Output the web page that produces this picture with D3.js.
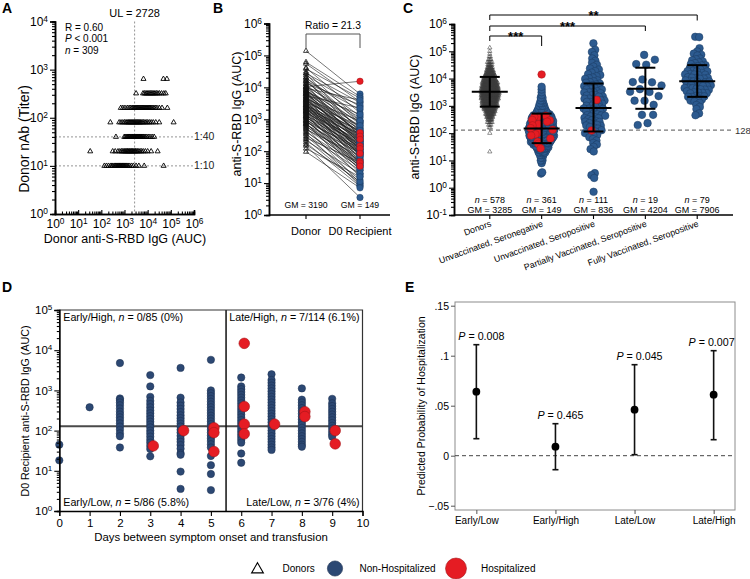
<!DOCTYPE html>
<html><head><meta charset="utf-8">
<script src="https://cdn.jsdelivr.net/npm/d3@7"></script>
<style>body{margin:0;background:#fff} text{white-space:pre}</style>
</head><body>
<svg id="c" width="750" height="579"></svg>
<script>
// ===================== DATA =====================
// Panel A: donor anti-S-RBD IgG (log10 AUC) for each nAb titer row
const titerRows = [10, 20, 40, 80, 160, 320, 640];
const aRow10  = [2.13, 2.22, 2.31, 2.4, 2.45, 2.5, 2.56, 2.6, 2.63, 2.67, 2.71, 2.74, 2.77, 2.8, 2.83, 2.86, 2.9, 2.93, 2.96, 2.99, 3.03, 3.07, 3.11, 3.16, 3.22, 3.3, 3.38, 3.5, 3.62, 3.85, 4.69];
const aRow20  = [1.52, 2.49, 2.6, 2.72, 2.8, 2.87, 2.92, 2.97, 3.01, 3.05, 3.09, 3.13, 3.16, 3.2, 3.23, 3.27, 3.3, 3.34, 3.37, 3.41, 3.45, 3.48, 3.53, 3.57, 3.62, 3.68, 3.74, 3.81, 3.9, 4.0, 4.15, 4.43];
const aRow40  = [2.63, 2.99, 3.04, 3.09, 3.13, 3.16, 3.2, 3.23, 3.27, 3.3, 3.33, 3.36, 3.39, 3.42, 3.45, 3.48, 3.51, 3.54, 3.57, 3.6, 3.63, 3.66, 3.69, 3.72, 3.76, 3.8, 3.84, 3.89, 3.95, 4.02, 4.1, 4.19, 4.28];
const aRow80  = [2.39, 2.77, 2.85, 2.93, 3.0, 3.06, 3.11, 3.16, 3.2, 3.24, 3.28, 3.32, 3.36, 3.4, 3.44, 3.48, 3.52, 3.56, 3.6, 3.64, 3.68, 3.72, 3.77, 3.82, 3.88, 3.94, 4.0, 4.07, 4.15, 4.24, 4.35, 4.5, 5.12];
const aRow160 = [2.84, 2.93, 3.02, 3.12, 3.2, 3.27, 3.33, 3.38, 3.43, 3.47, 3.51, 3.55, 3.59, 3.63, 3.67, 3.71, 3.75, 3.79, 3.83, 3.87, 3.91, 3.95, 3.99, 4.03, 4.07, 4.11, 4.16, 4.21, 4.27, 4.33, 4.4, 4.5, 4.62, 4.85];
const aRow320 = [3.5, 3.8, 3.86, 3.92, 3.97, 4.02, 4.07, 4.12, 4.17, 4.22, 4.27, 4.32, 4.38, 4.44, 4.51, 4.6, 4.7, 4.78];
const aRow640 = [3.82, 4.68, 4.83];
const ulA = 2728;

// Panel B: paired donor / D0 recipient log10 AUC
const bCats = ["Donor", "D0 Recipient"];
const donorB = [5.14, 4.79, 4.74, 4.61, 4.58, 4.49, 4.44, 4.43, 4.37, 4.31, 4.30, 4.26, 4.21, 4.20, 4.17, 4.12, 4.10, 4.08, 4.03, 4.01,
  3.99, 3.97, 3.95, 3.93, 3.90, 3.88, 3.86, 3.85, 3.82, 3.80, 3.79, 3.77, 3.74, 3.72, 3.71, 3.69, 3.67, 3.66, 3.63, 3.61,
  3.60, 3.58, 3.57, 3.55, 3.53, 3.52, 3.50, 3.49, 3.47, 3.45, 3.44, 3.42, 3.41, 3.39, 3.37, 3.36, 3.34, 3.33, 3.31, 3.29,
  3.28, 3.26, 3.24, 3.23, 3.21, 3.19, 3.17, 3.16, 3.13, 3.11, 3.09, 3.07, 3.05, 3.03, 3.01, 2.98, 2.96, 2.93, 2.91, 2.88,
  2.86, 2.83, 2.80, 2.77, 2.74, 2.71, 2.68, 2.64, 2.60, 2.56, 2.52, 2.47, 2.42, 2.38, 2.33, 2.27, 2.21, 2.17, 2.08, 1.98];
const recipB = [3.79, 3.71, 3.55, 3.20, 3.66, 2.95, 3.52, 2.60, 3.40, 2.88, 3.10, 2.45, 3.30, 2.70, 2.95, 3.45, 2.20, 2.85, 3.05, 2.50,
  2.75, 3.60, 2.30, 2.65, 2.90, 1.95, 2.55, 3.15, 2.40, 2.80, 2.05, 2.60, 3.35, 2.25, 2.50, 1.85, 2.70, 2.35, 2.95, 2.15,
  2.45, 1.75, 2.60, 2.30, 2.05, 2.80, 2.20, 1.60, 2.50, 2.35, 1.95, 2.65, 2.10, 2.40, 1.70, 2.25, 2.55, 1.90, 2.15, 2.45,
  1.50, 2.30, 2.00, 2.20, 1.80, 2.35, 1.40, 2.05, 1.95, 2.25, 1.65, 1.90, 2.15, 1.30, 1.85, 2.00, 1.55, 1.75, 2.10, 1.20,
  1.60, 1.95, 1.45, 1.70, 1.00, 1.55, 1.85, 1.25, 1.50, 0.93, 1.40, 1.10, 1.65, 0.98, 1.30, 0.90, 1.05, 0.55, 1.20, 0.85];
const donorBHosp = [4.02, 3.90, 3.62, 3.80, 3.45, 3.35, 3.25, 3.10, 2.95, 2.85];
const recipBHosp = [4.19, 2.58, 2.47, 2.37, 2.16, 2.08, 1.93, 1.68, 1.63, 1.53];
const bGM = [3190, 149];
const bRatio = 21.3;

// Panel C: log10 AUC by group
const cCats = ["Donors", "Unvaccinated, Seronegative", "Unvaccinated, Seropositive", "Partially Vaccinated, Seropositive", "Fully Vaccinated, Seropositive"];
const cN  = [578, 361, 111, 19, 79];
const cGM = [3285, 149, 836, 4204, 7906];
const cLo = [940, 43, 115, 780, 2140];
const cHi = [11500, 520, 6600, 25000, 31000];
// frequency tables [log10 AUC, count]
const cDonorBins = [[1.32,1],[2.0,1],[2.2,2],[2.3,3],[2.4,5],[2.5,8],[2.6,12],[2.7,16],[2.8,20],[2.9,25],[3.0,30],[3.1,34],[3.2,37],[3.3,41],[3.4,44],[3.5,45],[3.6,43],[3.7,39],[3.8,35],[3.9,31],[4.0,26],[4.1,21],[4.2,17],[4.3,13],[4.4,9],[4.5,7],[4.6,5],[4.7,3],[4.8,2],[4.9,1],[5.0,1],[5.13,1]];
const cSeronegBins = [[0.52,1],[0.56,1],[0.9,1],[1.0,2],[1.1,2],[1.2,3],[1.3,5],[1.4,8],[1.5,12],[1.6,16],[1.7,20],[1.8,24],[1.9,27],[2.0,29],[2.1,30],[2.2,29],[2.3,27],[2.4,24],[2.5,21],[2.6,17],[2.7,13],[2.8,9],[2.9,6],[3.0,4],[3.1,3],[3.2,2],[3.3,2],[3.4,1],[3.5,1],[3.6,1],[3.7,1]];
const cSeronegHosp = [4.15, 2.6, 2.57, 2.52, 2.47, 2.42, 2.36, 2.3, 2.24, 2.18, 2.12, 2.05, 1.98, 1.9, 1.82, 1.72, 1.62, 1.5];
const cSeropos = [5.29, 5.05, 4.98, 4.85, 4.74, 4.65, 4.58, 4.5, 4.44, 4.38, 4.32, 4.27, 4.22, 4.17, 4.12, 4.08, 4.04, 4.0, 3.96, 3.93,
  3.9, 3.87, 3.83, 3.81, 3.78, 3.74, 3.72, 3.7, 3.66, 3.64, 3.62, 3.58, 3.56, 3.54, 3.5, 3.49, 3.46, 3.43, 3.41, 3.39,
  3.35, 3.34, 3.31, 3.28, 3.26, 3.24, 3.2, 3.19, 3.16, 3.13, 3.11, 3.09, 3.05, 3.04, 3.01, 2.98, 2.96, 2.94, 2.9, 2.89,
  2.86, 2.83, 2.81, 2.79, 2.75, 2.74, 2.71, 2.68, 2.66, 2.64, 2.6, 2.59, 2.56, 2.53, 2.51, 2.49, 2.45, 2.44, 2.41, 2.37,
  2.35, 2.32, 2.28, 2.26, 2.23, 2.2, 2.16, 2.12, 2.08, 2.04, 2.0, 1.95, 1.9, 1.85, 1.79, 1.73, 1.66, 1.58, 1.5, 1.42,
  1.33, 0.53, 0.46, 0.36, -0.15];
const cSeroposHosp = [3.25, 2.11];
const cPartial = [4.86, 4.68, 4.53, 4.53, 3.95, 3.76, 3.76, 3.76, 3.64, 3.58, 3.58, 3.37, 3.21, 3.21, 3.03, 2.66, 2.66, 2.40, 2.30];
const cFully = [5.53, 5.52, 5.1, 5.0, 4.92, 4.85, 4.8, 4.74, 4.7, 4.66, 4.62, 4.58, 4.55, 4.51, 4.48, 4.45, 4.42, 4.39, 4.36, 4.35,
  4.33, 4.3, 4.27, 4.24, 4.21, 4.2, 4.18, 4.15, 4.12, 4.1, 4.09, 4.06, 4.05, 4.03, 4.0, 4.0, 3.97, 3.95, 3.94, 3.91,
  3.9, 3.88, 3.85, 3.85, 3.82, 3.8, 3.79, 3.76, 3.75, 3.73, 3.7, 3.7, 3.67, 3.65, 3.64, 3.61, 3.6, 3.58, 3.55, 3.52,
  3.5, 3.49, 3.46, 3.45, 3.43, 3.4, 3.36, 3.35, 3.32, 3.28, 3.24, 3.2, 3.15, 3.1, 3.05, 3.0, 2.9, 2.72, 2.66];
const cThreshold = 128;
const cBrackets = [[0, 1, "***"], [0, 3, "***"], [0, 4, "**"]];

// Panel D: [day, log10 AUC list] for non-hospitalized; [day, log10 AUC] for hospitalized
const nonHospD = [
  [0, [1.65, 1.26]],
  [1, [2.58]],
  [2, [3.68, 2.8, 2.76, 2.7, 2.63, 2.55, 2.47, 2.4, 2.33, 2.26, 2.18, 2.1, 2.02, 1.93, 1.86, 1.58]],
  [3, [3.38, 3.1, 2.84, 2.74, 2.66, 2.58, 2.5, 2.43, 2.36, 2.29, 2.22, 2.15, 2.08, 2.0, 1.93, 1.85, 1.77, 1.7, 1.62, 1.54, 1.36]],
  [4, [3.56, 2.82, 2.7, 2.62, 2.54, 2.46, 2.38, 2.31, 2.24, 2.17, 2.1, 2.02, 1.95, 1.87, 1.79, 1.72, 1.64, 1.55, 1.44, 1.4, 0.98, 0.55]],
  [5, [3.76, 3.0, 2.93, 2.86, 2.79, 2.72, 2.65, 2.58, 2.51, 2.44, 2.37, 2.3, 2.23, 2.16, 2.09, 2.02, 1.95, 1.88, 1.81, 1.74, 1.66, 1.58, 1.37, 1.14, 0.92, 0.52]],
  [6, [3.32, 3.1, 3.03, 2.96, 2.89, 2.82, 2.75, 2.68, 2.61, 2.54, 2.47, 2.4, 2.33, 2.26, 2.19, 2.12, 2.05, 1.98, 1.91, 1.84, 1.77, 1.7, 1.43, 1.2]],
  [7, [3.4, 3.26, 3.19, 3.12, 3.05, 2.98, 2.91, 2.84, 2.77, 2.7, 2.63, 2.56, 2.49, 2.42, 2.35, 2.28, 2.21, 2.14, 2.07, 2.0, 1.93, 1.86, 1.79, 1.72, 1.65, 1.58, 1.52]],
  [8, [3.05, 2.77, 2.7, 2.63, 2.56, 2.49, 2.42, 2.35, 2.28, 2.21, 2.14, 2.07, 2.0, 1.93, 1.86, 1.79, 1.72, 1.65, 1.6]],
  [9, [2.79, 2.68, 2.61, 2.54, 2.47, 2.4, 2.33, 2.26, 2.19, 2.12, 2.05, 1.98, 1.91, 1.85]]
];
const hospD = [[3,1.62],[4,2.0],[5,2.07],[5,1.95],[5,1.48],[6,4.17],[6,2.6],[6,2.16],[6,1.92],[7,2.16],[8,2.47],[8,2.35],[9,2.0],[9,1.67]];
const dQuadLabels = [
  ["Early/High, ", "0/85 (0%)"], ["Early/Low, ", "5/86 (5.8%)"],
  ["Late/High, ", "7/114 (6.1%)"], ["Late/Low, ", "3/76 (4%)"]
];

// Panel E
const eCats = ["Early/Low", "Early/High", "Late/Low", "Late/High"];
const eProb = [0.064, 0.009, 0.046, 0.061];
const eLo   = [0.017, -0.014, 0.001, 0.016];
const eHi   = [0.111, 0.032, 0.091, 0.105];
const eP    = ["0.008", "0.465", "0.045", "0.007"];
const eTicks = [-0.05, 0, 0.05, 0.1, 0.15];

// ===================== DRAWING =====================
const F = '"Liberation Sans", Arial, Helvetica, sans-serif';
const svg = d3.select("#c").attr("font-family", F);
const BLUE = "#2c5a8f", BLUE_S = "#1b3a61", DBLUE = "#2c4873", DBLUE_S = "#1b2f4f";
const RED = "#e51c23", RED_S = "#a5161a";
const p10 = v => Math.pow(10, v);

function decades(a, b) { return d3.range(a, b + 1).map(p10); }
function minors(a, b) { const o = []; d3.range(a, b).forEach(e => d3.range(2, 10).forEach(m => o.push(m * p10(e)))); return o; }
function styleAxis(g, sw = 1.5) {
  g.select(".domain").attr("stroke", "#000").attr("stroke-width", sw);
  g.selectAll(".tick line").attr("stroke", "#000").attr("stroke-width", 1.1);
  g.selectAll(".tick text").attr("fill", "#000").attr("font-family", F);
}
function supTicks(g, fs) {
  g.selectAll(".tick text").attr("font-size", fs + "px").each(function (d) {
    const e = Math.round(Math.log10(d));
    const t = d3.select(this).text(null);
    t.append("tspan").text("10");
    t.append("tspan").attr("dy", "-0.5em").attr("font-size", (fs * 0.7) + "px").text(e);
  });
}
function logAxis(g, scale, orient, lo, hi, fs, major = 5, minor = 3, pad = 2) {
  const mk = orient === "left" ? d3.axisLeft : d3.axisBottom;
  g.append("g").call(mk(scale).tickValues(minors(lo, hi)).tickSize(minor).tickFormat("")).call(styleAxis);
  g.append("g").call(mk(scale).tickValues(decades(lo, hi)).tickSize(major).tickPadding(pad)).call(styleAxis).call(s => supTicks(s, fs));
}
function rich(parent, x, y, parts, fs, anchor = "start") {
  const t = parent.append("text").attr("x", x).attr("y", y).attr("font-size", fs + "px")
    .attr("text-anchor", anchor).attr("fill", "#000");
  parts.forEach(p => { const s = t.append("tspan").text(p[0]); if (p[1]) s.attr("font-style", "italic"); });
  return t;
}
function panelLabel(x, y, s) {
  svg.append("text").attr("x", x).attr("y", y).attr("font-size", "14px").attr("font-weight", "bold").text(s);
}
const tri = d3.symbol(d3.symbolTriangle);

// ---------- Panel A ----------
{
  const xA = d3.scaleLog().domain([1, 1e6]).range([55, 194]);
  const yA = d3.scaleLog().domain([1, 1e4]).range([214, 21.5]);
  const g = svg.append("g");
  panelLabel(2, 13, "A");
  g.append("line").attr("x1", xA(ulA)).attr("x2", xA(ulA)).attr("y1", yA(1e4)).attr("y2", yA(1))
    .attr("stroke", "#888").attr("stroke-width", 0.9).attr("stroke-dasharray", "2,2");
  [[40, "1:40"], [10, "1:10"]].forEach(([v, l]) => {
    g.append("line").attr("x1", xA(1)).attr("x2", xA(1e6)).attr("y1", yA(v)).attr("y2", yA(v))
      .attr("stroke", "#888").attr("stroke-width", 0.9).attr("stroke-dasharray", "2,2");
    g.append("text").attr("x", 194).attr("y", yA(v) + 3.5).attr("font-size", "10.5px").attr("fill", "#222").text(l);
  });
  const rows = [aRow10, aRow20, aRow40, aRow80, aRow160, aRow320, aRow640];
  const pts = [];
  rows.forEach((r, i) => r.forEach(v => pts.push([p10(v), titerRows[i]])));
  g.selectAll("path.ta").data(pts).join("path").attr("class", "ta")
    .attr("d", tri.size(11)).attr("transform", d => `translate(${xA(d[0])},${yA(d[1])})`)
    .attr("fill", "none").attr("stroke", "#000").attr("stroke-width", 0.9);
  const ax = g.append("g").attr("transform", "translate(0,214)");
  logAxis(ax, xA, "bottom", 0, 6, 12, -4, -2.5, 5.5);
  const ay = g.append("g").attr("transform", "translate(55,0)");
  logAxis(ay, yA, "left", 0, 4, 12);
  g.append("text").attr("x", xA(ulA)).attr("y", 16.5).attr("text-anchor", "middle").attr("font-size", "11px").text("UL = 2728");
  rich(g, 65, 30.5, [["R = 0.60"]], 10);
  rich(g, 65, 42, [["P", 1], [" < 0.001"]], 10);
  rich(g, 65, 53.5, [["n", 1], [" = 309"]], 10);
  g.append("text").attr("x", 125).attr("y", 243).attr("text-anchor", "middle").attr("font-size", "12.5px").text("Donor anti-S-RBD IgG (AUC)");
  g.append("text").attr("transform", "translate(29,139) rotate(-90)").attr("text-anchor", "middle").attr("font-size", "14px").text("Donor nAb (Titer)");
}

// ---------- Panel B ----------
{
  const yB = d3.scaleLog().domain([1, 1e6]).range([215, 23.5]);
  const xB = d3.scalePoint().domain(bCats).range([306, 360]);
  const g = svg.append("g");
  panelLabel(213, 13, "B");
  const x0 = xB(bCats[0]), x1 = xB(bCats[1]);
  const pairs = donorB.map((d, i) => [d, recipB[i], 0]).concat(donorBHosp.map((d, i) => [d, recipBHosp[i], 1]));
  g.selectAll("line.pl").data(pairs).join("line").attr("class", "pl")
    .attr("x1", x0).attr("x2", x1).attr("y1", d => yB(p10(d[0]))).attr("y2", d => yB(p10(d[1])))
    .attr("stroke", "#1a1a1a").attr("stroke-width", 0.7).attr("stroke-opacity", 0.85);
  g.selectAll("path.tb").data(pairs).join("path").attr("class", "tb")
    .attr("d", tri.size(11)).attr("transform", d => `translate(${x0},${yB(p10(d[0]))})`)
    .attr("fill", "none").attr("stroke", "#111").attr("stroke-width", 0.8);
  g.selectAll("circle.rb").data(pairs.filter(d => !d[2])).join("circle").attr("class", "rb")
    .attr("cx", x1).attr("cy", d => yB(p10(d[1]))).attr("r", 3.2).attr("fill", BLUE).attr("stroke", BLUE_S).attr("stroke-width", 0.5);
  g.selectAll("circle.rh").data(pairs.filter(d => d[2])).join("circle").attr("class", "rh")
    .attr("cx", x1).attr("cy", d => yB(p10(d[1]))).attr("r", 3.2).attr("fill", RED).attr("stroke", RED_S).attr("stroke-width", 0.5);
  const ay = g.append("g").attr("transform", "translate(269,0)");
  logAxis(ay, yB, "left", 0, 6, 12);
  g.append("line").attr("x1", 269).attr("x2", 390).attr("y1", 215).attr("y2", 215).attr("stroke", "#000").attr("stroke-width", 1.5);
  bCats.forEach(c => {
    g.append("line").attr("x1", xB(c)).attr("x2", xB(c)).attr("y1", 215).attr("y2", 219).attr("stroke", "#000").attr("stroke-width", 1.1);
    g.append("text").attr("x", xB(c)).attr("y", 235).attr("text-anchor", "middle").attr("font-size", "11px").text(c);
  });
  bGM.forEach((v, i) => g.append("text").attr("x", xB(bCats[i])).attr("y", 208).attr("text-anchor", "middle").attr("font-size", "8.7px").text("GM = " + v));
  g.append("path").attr("d", `M${x0},48V34H${x1}V48`).attr("fill", "none").attr("stroke", "#555").attr("stroke-width", 1);
  g.append("text").attr("x", (x0 + x1) / 2).attr("y", 29).attr("text-anchor", "middle").attr("font-size", "10.3px").text("Ratio = " + bRatio);
  g.append("text").attr("transform", "translate(241,114) rotate(-90)").attr("text-anchor", "middle").attr("font-size", "12.5px").text("anti-S-RBD IgG (AUC)");
}

// ---------- Panel C ----------
{
  const yC = d3.scaleLog().domain([0.1, 1e6]).range([215, 24]);
  const xC = d3.scalePoint().domain(cCats).range([454, 733]).padding(0.69);
  const g = svg.append("g");
  panelLabel(403, 13, "C");
  function swarm(vals, cx, rc, sx, sy) {
    const nodes = vals.map((v, i) => ({ v: v[0], h: v[1], ty: yC(p10(v[0])), x: cx + ((i * 7) % 9 - 4) * 0.6, y: yC(p10(v[0])) }));
    const sim = d3.forceSimulation(nodes)
      .force("x", d3.forceX(cx).strength(sx))
      .force("y", d3.forceY(d => d.ty).strength(sy))
      .force("c", d3.forceCollide(rc).iterations(2)).stop();
    for (let k = 0; k < 250; k++) sim.tick();
    return nodes;
  }
  const expand = bins => bins.flatMap(([v, c]) => d3.range(c).map(() => v));
  g.append("line").attr("x1", 454).attr("x2", 733).attr("y1", yC(cThreshold)).attr("y2", yC(cThreshold))
    .attr("stroke", "#777").attr("stroke-width", 1.2).attr("stroke-dasharray", "4,3");
  g.append("text").attr("x", 735).attr("y", yC(cThreshold) + 3.5).attr("font-size", "9.5px").attr("fill", "#333").text(cThreshold);
  const dn = swarm(expand(cDonorBins).map(v => [v, 0]), xC(cCats[0]), 0.58, 0.07, 0.5);
  g.selectAll("path.tc").data(dn).join("path").attr("class", "tc")
    .attr("d", tri.size(8)).attr("transform", d => `translate(${d.x},${d.y})`)
    .attr("fill", "none").attr("stroke", "#3c3c3c").attr("stroke-width", 0.55);
  const groups = [
    [expand(cSeronegBins).map(v => [v, 0]).concat(cSeronegHosp.map(v => [v, 1])), 1, 0.85, 0.06, 0.5],
    [cSeropos.map(v => [v, 0]).concat(cSeroposHosp.map(v => [v, 1])), 2, 1.95, 0.05, 0.5],
    [cPartial.map(v => [v, 0]), 3, 5, 0.03, 0.5],
    [cFully.map(v => [v, 0]), 4, 2.0, 0.05, 0.5]
  ];
  groups.forEach(([vals, gi, rc, sx, sy]) => {
    const nodes = swarm(vals, xC(cCats[gi]), rc, sx, sy);
    g.append("g").selectAll("circle").data(nodes.filter(d => !d.h)).join("circle")
      .attr("cx", d => d.x).attr("cy", d => d.y).attr("r", 3.8).attr("fill", BLUE).attr("stroke", BLUE_S).attr("stroke-width", 0.5);
    g.append("g").selectAll("circle").data(nodes.filter(d => d.h)).join("circle")
      .attr("cx", d => d.x).attr("cy", d => d.y).attr("r", 3.8).attr("fill", RED).attr("stroke", RED_S).attr("stroke-width", 0.5);
  });
  cCats.forEach((c, i) => {
    const cx = xC(c);
    g.append("line").attr("x1", cx).attr("x2", cx).attr("y1", yC(cLo[i])).attr("y2", yC(cHi[i])).attr("stroke", "#000").attr("stroke-width", 2);
    [cLo[i], cHi[i]].forEach(v => g.append("line").attr("x1", cx - 10).attr("x2", cx + 10).attr("y1", yC(v)).attr("y2", yC(v)).attr("stroke", "#000").attr("stroke-width", 2));
    g.append("line").attr("x1", cx - 18).attr("x2", cx + 18).attr("y1", yC(cGM[i])).attr("y2", yC(cGM[i])).attr("stroke", "#000").attr("stroke-width", 2);
    rich(g, cx, 202.5, [["n", 1], [" = " + cN[i]]], 9, "middle");
    g.append("text").attr("x", cx).attr("y", 213).attr("text-anchor", "middle").attr("font-size", "9px").text("GM = " + cGM[i]);
    g.append("line").attr("x1", cx).attr("x2", cx).attr("y1", 215).attr("y2", 219).attr("stroke", "#000").attr("stroke-width", 1.1);
    g.append("text").attr("transform", `translate(${cx + 2},226) rotate(-20)`).attr("text-anchor", "end").attr("font-size", "8.8px").text(c);
  });
  const ay = g.append("g").attr("transform", "translate(454,0)");
  logAxis(ay, yC, "left", -1, 6, 12);
  g.append("line").attr("x1", 454).attr("x2", 733).attr("y1", 215).attr("y2", 215).attr("stroke", "#000").attr("stroke-width", 1.5);
  const bY = [36, 26, 15], rDrop = [10, 5, 5.5];
  cBrackets.forEach(([a, b, s], k) => {
    const xa = xC(cCats[a]), xb = xC(cCats[b]);
    g.append("path").attr("d", `M${xa},${bY[k] + 5}V${bY[k]}H${xb}V${bY[k] + rDrop[k]}`).attr("fill", "none").attr("stroke", "#000").attr("stroke-width", 1);
    g.append("text").attr("x", (xa + xb) / 2).attr("y", bY[k] + 4.5).attr("text-anchor", "middle").attr("font-size", "13px").attr("font-weight", "bold").text(s);
  });
  g.append("text").attr("transform", "translate(419,117) rotate(-90)").attr("text-anchor", "middle").attr("font-size", "12.5px").text("anti-S-RBD IgG (AUC)");
}

// ---------- Panel D ----------
{
  const xD = d3.scaleLinear().domain([0, 10]).range([59.3, 362.5]);
  const yD = d3.scaleLog().domain([1, 1e5]).range([511, 310]);
  const g = svg.append("g");
  panelLabel(2, 292, "D");
  const thr = 128;
  g.append("line").attr("x1", xD(0)).attr("x2", xD(10)).attr("y1", yD(thr)).attr("y2", yD(thr)).attr("stroke", "#4a4a4a").attr("stroke-width", 2);
  g.append("line").attr("x1", xD(5.5)).attr("x2", xD(5.5)).attr("y1", 310).attr("y2", 511).attr("stroke", "#111").attr("stroke-width", 1.5);
  const blue = nonHospD.flatMap(([d, vs]) => vs.map(v => [d, v]));
  g.selectAll("circle.db").data(blue).join("circle").attr("class", "db")
    .attr("cx", d => xD(d[0])).attr("cy", d => yD(p10(d[1]))).attr("r", 3.7)
    .attr("fill", DBLUE).attr("stroke", DBLUE_S).attr("stroke-width", 0.5);
  g.selectAll("circle.dr").data(hospD).join("circle").attr("class", "dr")
    .attr("cx", d => xD(d[0] + 0.1)).attr("cy", d => yD(p10(d[1]))).attr("r", 5.3)
    .attr("fill", RED).attr("stroke", RED_S).attr("stroke-width", 0.6);
  g.append("path").attr("d", `M${xD(0)},310H${xD(10)}V511`).attr("fill", "none").attr("stroke", "#333").attr("stroke-width", 1.2);
  const ax = g.append("g").attr("transform", "translate(0,511)")
    .call(d3.axisBottom(xD).tickValues(d3.range(0, 11)).tickSize(5).tickPadding(3)).call(s => styleAxis(s, 1.3));
  ax.selectAll(".tick text").attr("font-size", "11.5px");
  const ay = g.append("g").attr("transform", `translate(${xD(0)},0)`);
  logAxis(ay, yD, "left", 0, 5, 11.5, 5, 2.5);
  ay.selectAll(".domain").attr("stroke-width", 1.3);
  const q = [[xD(0) + 4, 320.5, "start", 0], [xD(0) + 4, 505.5, "start", 1], [xD(10) - 3, 320.5, "end", 2], [xD(10) - 3, 505.5, "end", 3]];
  q.forEach(([x, y, a, i]) => rich(g, x, y, [[dQuadLabels[i][0]], ["n", 1], [" = " + dQuadLabels[i][1]]], 10.7, a));
  g.append("text").attr("x", 211).attr("y", 541).attr("text-anchor", "middle").attr("font-size", "11.4px").text("Days between symptom onset and transfusion");
  g.append("text").attr("transform", "translate(28.5,411) rotate(-90)").attr("text-anchor", "middle").attr("font-size", "10.7px").text("D0 Recipient anti-S-RBD IgG (AUC)");
}

// ---------- Panel E ----------
{
  const yE = d3.scaleLinear().domain([-0.05, 0.15]).range([505.7, 305.7]);
  const xE = d3.scalePoint().domain(eCats).range([455, 735]).padding(0.27);
  const g = svg.append("g");
  panelLabel(405, 292, "E");
  g.append("rect").attr("x", 455).attr("y", 302).attr("width", 280).attr("height", 208).attr("fill", "none").attr("stroke", "#8c8c8c").attr("stroke-width", 1);
  g.append("line").attr("x1", 455).attr("x2", 735).attr("y1", yE(0)).attr("y2", yE(0)).attr("stroke", "#444").attr("stroke-width", 1).attr("stroke-dasharray", "4,3");
  const fmt = d => d === 0 ? "0" : d3.format(".2~f")(d).replace("0.", ".");
  const ay = g.append("g").attr("transform", "translate(455,0)").call(d3.axisLeft(yE).tickValues(eTicks).tickFormat(fmt).tickSize(4).tickPadding(2));
  ay.select(".domain").remove();
  ay.selectAll(".tick line").attr("stroke", "#555");
  ay.selectAll(".tick text").attr("font-size", "10.5px").attr("fill", "#000");
  const ax = g.append("g").attr("transform", "translate(0,510)").call(d3.axisBottom(xE).tickSize(4).tickPadding(3));
  ax.select(".domain").remove();
  ax.selectAll(".tick line").attr("stroke", "#555");
  ax.selectAll(".tick text").attr("font-size", "10px").attr("fill", "#000");
  eCats.forEach((c, i) => {
    const x = xE(c);
    g.append("line").attr("x1", x).attr("x2", x).attr("y1", yE(eLo[i])).attr("y2", yE(eHi[i])).attr("stroke", "#111").attr("stroke-width", 1.6);
    [eLo[i], eHi[i]].forEach(v => g.append("line").attr("x1", x - 3).attr("x2", x + 3).attr("y1", yE(v)).attr("y2", yE(v)).attr("stroke", "#111").attr("stroke-width", 1.6));
    g.append("circle").attr("cx", x).attr("cy", yE(eProb[i])).attr("r", 3.9).attr("fill", "#000");
    rich(g, x + (i === 3 ? -2 : 5), yE(eHi[i]) - 5, [["P", 1], [" = " + eP[i]]], 10.7, "middle");
  });
  g.append("text").attr("transform", "translate(425,406) rotate(-90)").attr("text-anchor", "middle").attr("font-size", "10.5px").text("Predicted Probability of Hospitalization");
}

// ---------- Legend ----------
{
  const g = svg.append("g");
  const ly = 568.5;
  g.append("path").attr("d", d3.symbol(d3.symbolTriangle).size(60)()).attr("transform", `translate(257.5,${ly + 1})`)
    .attr("fill", "none").attr("stroke", "#000").attr("stroke-width", 1.1);
  g.append("text").attr("x", 282.5).attr("y", ly + 3.5).attr("font-size", "10px").text("Donors");
  g.append("circle").attr("cx", 335).attr("cy", ly).attr("r", 7.6).attr("fill", DBLUE).attr("stroke", DBLUE_S).attr("stroke-width", 0.6);
  g.append("text").attr("x", 359.5).attr("y", ly + 3.5).attr("font-size", "10px").text("Non-Hospitalized");
  g.append("circle").attr("cx", 456).attr("cy", ly).attr("r", 10.5).attr("fill", RED).attr("stroke", RED_S).attr("stroke-width", 0.6);
  g.append("text").attr("x", 481).attr("y", ly + 3.5).attr("font-size", "10px").text("Hospitalized");
}
</script>
</body></html>
